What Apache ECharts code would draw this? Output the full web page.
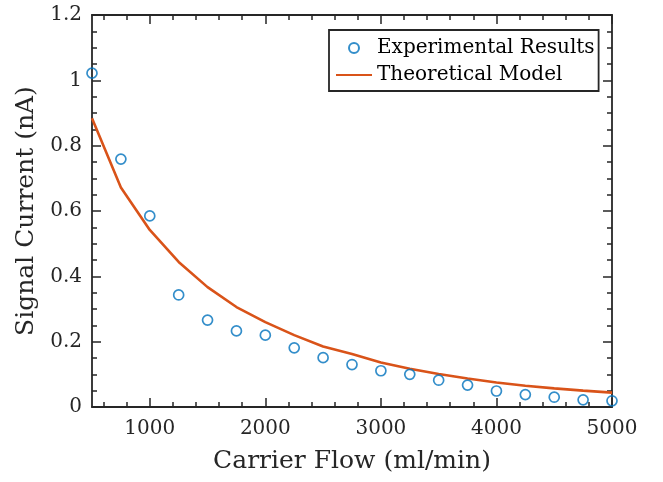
<!DOCTYPE html>
<html><head><meta charset="utf-8">
<script src="https://cdn.jsdelivr.net/npm/echarts@6/dist/echarts.min.js"></script>
<style>html,body{margin:0;padding:0;background:#fff}#c{width:663px;height:482px}</style>
</head><body><div id="c"></div>
<script>
const flow = [500,750,1000,1250,1500,1750,2000,2250,2500,2750,3000,3250,3500,3750,4000,4250,4500,4750,5000];
const experimental = [1.022,0.759,0.585,0.343,0.266,0.233,0.220,0.181,0.151,0.130,0.111,0.100,0.082,0.067,0.049,0.038,0.030,0.022,0.019];
const theoretical = [0.884,0.672,0.542,0.444,0.367,0.306,0.260,0.220,0.185,0.162,0.136,0.117,0.101,0.087,0.075,0.065,0.057,0.050,0.044];
const xTicks = [1000,2000,3000,4000,5000];
const xMinorTicks = [600,800,1200,1400,1600,1800,2200,2400,2600,2800,3200,3400,3600,3800,4200,4400,4600,4800];
const yTicks = [0,0.2,0.4,0.6,0.8,1,1.2];

const font = 'DejaVu Serif';
const axCol = '#262626';
const lineW = 1.8;
const chart = echarts.init(document.getElementById('c'));
function xAx(pos, minor, extra) {
  return Object.assign({
    type:'value', min:500, max:5000, interval:500, position:pos,
    axisLine:{show:!minor, onZero:false, lineStyle:{color:axCol,width:lineW}},
    axisTick:{show:true, inside:true, length: minor?5:9, lineStyle:{color:axCol,width:1.5},
      customValues: minor ? xMinorTicks : xTicks},
    axisLabel:{show:false},
    splitLine:{show:false}
  }, extra||{});
}
function yAx(pos, extra) {
  return Object.assign({
    type:'value', min:0, max:1.2, interval:0.2, position:pos,
    axisLine:{show:true, onZero:false, lineStyle:{color:axCol,width:lineW}},
    axisTick:{show:true, inside:true, length:9, lineStyle:{color:axCol,width:1.5}},
    minorTick:{show:true, splitNumber:4, length:5, lineStyle:{color:axCol,width:1.5}},
    axisLabel:{show:false},
    splitLine:{show:false}
  }, extra||{});
}
chart.setOption({
  animation:false,
  grid:{left:92, right:51, top:15, bottom:75},
  legend:{
    left:329, top:30, orient:'vertical', itemGap:7,
    padding:[8,4,6,6], borderColor:axCol, borderWidth:1.8, backgroundColor:'#fff',
    itemWidth:36, itemHeight:10,
    textStyle:{fontFamily:font, fontSize:20, color:'#000'},
    data:[{name:'Experimental Results'},{name:'Theoretical Model', itemStyle:{opacity:0}}]
  },
  xAxis:[
    xAx('bottom', false, {
      name:'Carrier Flow (ml/min)', nameLocation:'middle', nameGap:42,
      nameTextStyle:{fontFamily:font, fontSize:25, color:axCol},
      axisLabel:{show:true, fontFamily:font, fontSize:20, color:axCol, margin:12,
        customValues: xTicks, formatter: v => String(v)}}),
    xAx('bottom', true),
    xAx('top', false),
    xAx('top', true)
  ],
  yAxis:[
    yAx('left', {
      name:'Signal Current (nA)', nameLocation:'middle', nameGap:47,
      nameTextStyle:{fontFamily:font, fontSize:25, color:axCol},
      axisLabel:{show:true, fontFamily:font, fontSize:20, color:axCol, margin:10,
        formatter: v => String(+v.toFixed(1))}}),
    yAx('right')
  ],
  series:[
    {name:'Theoretical Model', type:'line', data: flow.map((f,i)=>[f,theoretical[i]]),
      symbol:'none', lineStyle:{color:'#D95319', width:2.6}, itemStyle:{color:'#D95319'}, z:2},
    {name:'Experimental Results', type:'scatter', data: flow.map((f,i)=>[f,experimental[i]]),
      symbol:'circle', symbolSize:10,
      itemStyle:{color:'rgba(255,255,255,0)', borderColor:'#0072BD', borderWidth:1.7}, z:3}
  ]
});
</script></body></html>
